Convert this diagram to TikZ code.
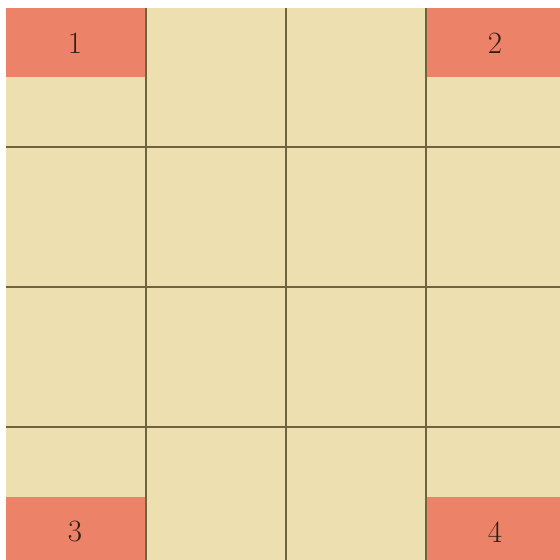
\documentclass[tikz,border=0pt]{standalone}
\begin{document}
\begin{tikzpicture}[x=1pt,y=-1pt,
  paper/.style={fill=paperc},
  corner/.style={fill=redc},
  gridline/.style={draw=linec,line width=1.4pt},
  num/.style={text=numc,font=\fontsize{31}{33}\selectfont,inner sep=0pt}]
\definecolor{paperc}{RGB}{238,223,176}
\definecolor{redc}{RGB}{236,130,104}
\definecolor{linec}{RGB}{110,100,64}
\definecolor{numc}{RGB}{50,30,24}
\useasboundingbox (0,0) rectangle (560,560);
\fill[white] (0,0) rectangle (560,560);
\fill[paper] (6,8) rectangle (560,560);
\fill[corner] (6,8) rectangle (146,77);
\fill[corner] (426,8) rectangle (560,77);
\fill[corner] (6,497) rectangle (146,560);
\fill[corner] (426,497) rectangle (560,560);
\foreach \v in {146,286,426}{
  \draw[gridline] (\v,8) -- (\v,560);
  \draw[gridline] (6,\v+1) -- (560,\v+1);
}
\node[num] (n1) at (75,43) {1};
\node[num] (n2) at (495,43) {2};
\node[num] (n3) at (75,531) {3};
\node[num] (n4) at (495,532) {4};
\end{tikzpicture}
\end{document}
